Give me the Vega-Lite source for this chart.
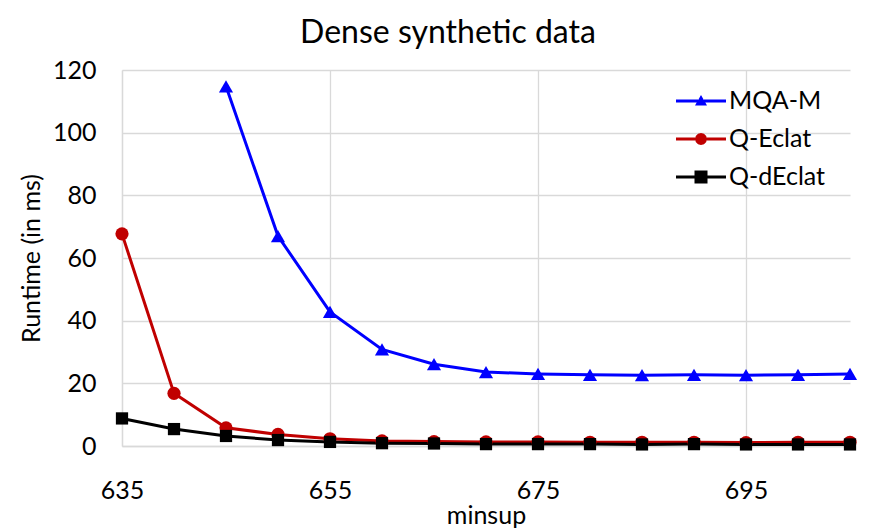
{
  "$schema": "https://vega.github.io/schema/vega-lite/v6.json",
  "width": 728,
  "height": 376,
  "autosize": {"type": "none"},
  "padding": {"left": 122, "top": 70, "right": 25, "bottom": 83},
  "background": "white",
  "title": {"text": "Dense synthetic data", "fontSize": 32, "font": "Lato", "fontWeight": "normal", "color": "#000000", "anchor": "middle", "dx": -38, "offset": 8},
  "config": {
    "view": {"stroke": null},
    "axis": {
      "gridColor": "#D9D9D9", "gridWidth": 1.3, "domainColor": "#D9D9D9", "domainWidth": 1.3,
      "ticks": false, "labelFont": "Lato", "labelFontSize": 25, "labelColor": "#000000",
      "titleFont": "Lato", "titleFontSize": 25, "titleFontWeight": "normal", "titleColor": "#000000"
    },
    "legend": {"labelFont": "Lato", "labelFontSize": 25, "labelColor": "#000000"}
  },
  "data": {
    "values": [
      {"series": "MQA-M", "minsup": 645, "runtime": 114.8},
      {"series": "MQA-M", "minsup": 650, "runtime": 67.0},
      {"series": "MQA-M", "minsup": 655, "runtime": 42.8},
      {"series": "MQA-M", "minsup": 660, "runtime": 30.8},
      {"series": "MQA-M", "minsup": 665, "runtime": 26.1},
      {"series": "MQA-M", "minsup": 670, "runtime": 23.6},
      {"series": "MQA-M", "minsup": 675, "runtime": 23.0},
      {"series": "MQA-M", "minsup": 680, "runtime": 22.7},
      {"series": "MQA-M", "minsup": 685, "runtime": 22.6},
      {"series": "MQA-M", "minsup": 690, "runtime": 22.7},
      {"series": "MQA-M", "minsup": 695, "runtime": 22.6},
      {"series": "MQA-M", "minsup": 700, "runtime": 22.7},
      {"series": "MQA-M", "minsup": 705, "runtime": 23.0},
      {"series": "Q-Eclat", "minsup": 635, "runtime": 67.7},
      {"series": "Q-Eclat", "minsup": 640, "runtime": 16.8},
      {"series": "Q-Eclat", "minsup": 645, "runtime": 5.8},
      {"series": "Q-Eclat", "minsup": 650, "runtime": 3.7},
      {"series": "Q-Eclat", "minsup": 655, "runtime": 2.3},
      {"series": "Q-Eclat", "minsup": 660, "runtime": 1.6},
      {"series": "Q-Eclat", "minsup": 665, "runtime": 1.4},
      {"series": "Q-Eclat", "minsup": 670, "runtime": 1.3},
      {"series": "Q-Eclat", "minsup": 675, "runtime": 1.3},
      {"series": "Q-Eclat", "minsup": 680, "runtime": 1.2},
      {"series": "Q-Eclat", "minsup": 685, "runtime": 1.2},
      {"series": "Q-Eclat", "minsup": 690, "runtime": 1.2},
      {"series": "Q-Eclat", "minsup": 695, "runtime": 1.1},
      {"series": "Q-Eclat", "minsup": 700, "runtime": 1.2},
      {"series": "Q-Eclat", "minsup": 705, "runtime": 1.2},
      {"series": "Q-dEclat", "minsup": 635, "runtime": 8.8},
      {"series": "Q-dEclat", "minsup": 640, "runtime": 5.4},
      {"series": "Q-dEclat", "minsup": 645, "runtime": 3.2},
      {"series": "Q-dEclat", "minsup": 650, "runtime": 1.9},
      {"series": "Q-dEclat", "minsup": 655, "runtime": 1.3},
      {"series": "Q-dEclat", "minsup": 660, "runtime": 0.9},
      {"series": "Q-dEclat", "minsup": 665, "runtime": 0.8},
      {"series": "Q-dEclat", "minsup": 670, "runtime": 0.6},
      {"series": "Q-dEclat", "minsup": 675, "runtime": 0.6},
      {"series": "Q-dEclat", "minsup": 680, "runtime": 0.6},
      {"series": "Q-dEclat", "minsup": 685, "runtime": 0.5},
      {"series": "Q-dEclat", "minsup": 690, "runtime": 0.6},
      {"series": "Q-dEclat", "minsup": 695, "runtime": 0.5},
      {"series": "Q-dEclat", "minsup": 700, "runtime": 0.5},
      {"series": "Q-dEclat", "minsup": 705, "runtime": 0.5}
    ]
  },
  "encoding": {
    "x": {"field": "minsup", "type": "quantitative", "scale": {"domain": [635, 705], "nice": false, "zero": false},
      "axis": {"values": [635, 655, 675, 695], "title": "minsup", "labelPadding": 32, "titlePadding": 0, "labelFlush": false}},
    "y": {"field": "runtime", "type": "quantitative", "scale": {"domain": [0, 120], "nice": false},
      "axis": {"values": [0, 20, 40, 60, 80, 100, 120], "title": "Runtime (in ms)", "labelPadding": 26, "titlePadding": 8, "labelFlush": false}}
  },
  "layer": [
    {
      "mark": {"type": "line", "strokeWidth": 3},
      "encoding": {
        "color": {"field": "series", "type": "nominal", "scale": {"domain": ["MQA-M", "Q-Eclat", "Q-dEclat"], "range": ["#0000FF", "#C00000", "#000000"]}, "legend": null}
      }
    },
    {
      "mark": {"type": "point", "filled": true, "opacity": 1},
      "encoding": {
        "color": {"field": "series", "type": "nominal", "scale": {"domain": ["MQA-M", "Q-Eclat", "Q-dEclat"], "range": ["#0000FF", "#C00000", "#000000"]}, "legend": null},
        "shape": {"field": "series", "type": "nominal", "scale": {"domain": ["MQA-M", "Q-Eclat", "Q-dEclat"], "range": ["triangle-up", "circle", "square"]}, "legend": null},
        "size": {"field": "series", "type": "nominal", "scale": {"domain": ["MQA-M", "Q-Eclat", "Q-dEclat"], "range": [200, 150, 170]}, "legend": null}
      }
    },
    {
      "mark": {"type": "point", "filled": true, "opacity": 0, "size": 2500},
      "encoding": {
        "color": {"field": "series", "type": "nominal", "scale": {"domain": ["MQA-M", "Q-Eclat", "Q-dEclat"], "range": ["#0000FF", "#C00000", "#000000"]},
          "legend": {"title": null, "orient": "none", "legendX": 554, "legendY": 6, "symbolOpacity": 1, "symbolSize": 2500, "labelOffset": 3, "rowPadding": -9, "symbolStrokeWidth": 0}},
        "shape": {"field": "series", "type": "nominal", "scale": {"domain": ["MQA-M", "Q-Eclat", "Q-dEclat"], "range": [
          "M-1,-0.06H-0.12V0.06H-1Z M0.12,-0.06H1V0.06H0.12Z M0,-0.24L0.24,0.18L-0.24,0.18Z",
          "M-1,-0.06H-0.23V0.06H-1Z M0.23,-0.06H1V0.06H0.23Z M0.24,0L0.208,0.12L0.12,0.208L0,0.24L-0.12,0.208L-0.208,0.12L-0.24,0L-0.208,-0.12L-0.12,-0.208L0,-0.24L0.12,-0.208L0.208,-0.12Z",
          "M-1,-0.06H-0.26V0.06H-1Z M0.26,-0.06H1V0.06H0.26Z M-0.26,-0.26H0.26V0.26H-0.26Z"
        ]},
          "legend": {"title": null, "orient": "none", "legendX": 554, "legendY": 6, "symbolOpacity": 1, "symbolSize": 2500, "labelOffset": 3, "rowPadding": -9, "symbolStrokeWidth": 0}}
      }
    }
  ],
  "resolve": {"scale": {"color": "independent", "shape": "independent", "size": "independent"}}
}
